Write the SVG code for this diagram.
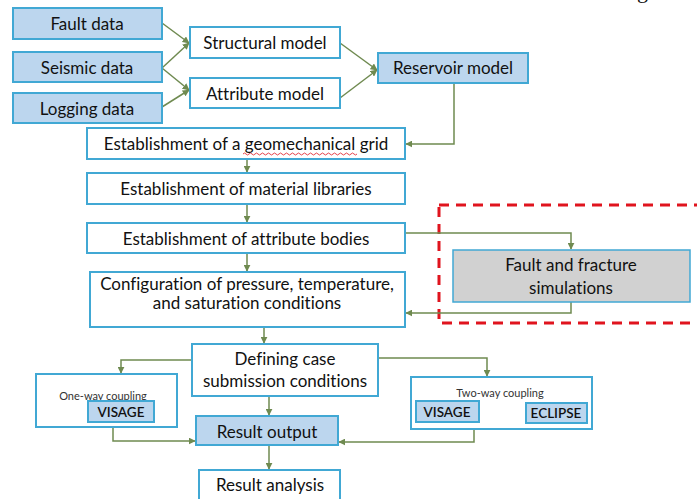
<svg xmlns="http://www.w3.org/2000/svg" width="697" height="499" viewBox="0 0 697 499">
<style>
.box{fill:#ffffff;stroke:#41a8d4;stroke-width:2}
.blue{fill:#bcd6ee;stroke:#41a8d4;stroke-width:2}
.gray{fill:#d1d1d1;stroke:#41a8d4;stroke-width:1.5}
text{font-variant-ligatures:none}
.t{font-family:Lato,"Liberation Sans",sans-serif;font-size:17px;fill:#111;text-anchor:middle;dominant-baseline:central}
.s{font-family:Lato,"Liberation Sans",sans-serif;font-size:11px;fill:#333;text-anchor:middle;dominant-baseline:central}
.v{font-family:Lato,"Liberation Sans",sans-serif;font-size:13.5px;font-weight:600;fill:#111;text-anchor:middle;dominant-baseline:central}
.c{fill:none;stroke:#6f8a50;stroke-width:1.5}
.cb{fill:none;stroke:#4a6fc0;stroke-width:1.3}
</style>
<defs>
<marker id="ah" viewBox="0 0 10 10" refX="9" refY="5" markerWidth="7" markerHeight="7" markerUnits="userSpaceOnUse" orient="auto">
<path d="M0,0 L10,5 L0,10 z" fill="#6f8a50"/>
</marker>
<marker id="ahb" viewBox="0 0 10 10" refX="9" refY="5" markerWidth="7" markerHeight="7" markerUnits="userSpaceOnUse" orient="auto">
<path d="M0,0 L10,5 L0,10 z" fill="#4a6fc0"/>
</marker>
</defs>
<rect width="697" height="499" fill="#ffffff"/>
<text x="637" y="-2" style="font-family:'Liberation Serif',serif;font-size:22px;fill:#111">g</text>

<rect x="439" y="205" width="262" height="118" fill="none" stroke="#e0141e" stroke-width="3" stroke-dasharray="10,7"/>

<g id="connectors">
<path class="c" d="M162,23 L189,43" marker-end="url(#ah)"/>
<path class="c" d="M162,68 L189,43" marker-end="url(#ah)"/>
<path class="c" d="M162,68 L189,90" marker-end="url(#ah)"/>
<path class="c" d="M162,107 L189,90" marker-end="url(#ah)"/>
<path class="c" d="M340,43 L377,70" marker-end="url(#ah)"/>
<path class="c" d="M340,98 L377,70" marker-end="url(#ah)"/>
<path class="c" d="M454,83 L454,144 L406,144" marker-end="url(#ah)"/>
<path class="c" d="M247,159 L247,172" marker-end="url(#ah)"/>
<path class="c" d="M247,204 L247,222" marker-end="url(#ah)"/>
<path class="c" d="M247,253 L247,271" marker-end="url(#ah)"/>
<path class="c" d="M405,233 L571,233 L571,249" marker-end="url(#ah)"/>
<path class="c" d="M571,302 L571,313 L406,313" marker-end="url(#ah)"/>
<path class="c" d="M264,327 L264,343" marker-end="url(#ah)"/>
<path class="c" d="M192,360 L121,360 L121,373" marker-end="url(#ah)"/>
<path class="c" d="M378,358 L487,358 L487,376" marker-end="url(#ah)"/>
<path class="c" d="M269,396 L269,415" marker-end="url(#ah)"/>
<path class="c" d="M113,422 L113,441 L195,441" marker-end="url(#ah)"/>
<path class="c" d="M474,429 L474,442 L339,442" marker-end="url(#ah)"/>
<path class="c" d="M269,445 L269,469" marker-end="url(#ah)"/>
<path class="cb" d="M479,409 L525,409" marker-end="url(#ahb)"/>
<path class="cb" d="M587,420 L537,420" marker-end="url(#ahb)"/>
</g>

<g id="fault-data"><rect class="blue" x="13" y="8" width="149" height="31"/><text class="t" x="87" y="23">Fault data</text></g>
<g id="seismic-data"><rect class="blue" x="13" y="52" width="149" height="30"/><text class="t" x="87" y="67">Seismic data</text></g>
<g id="logging-data"><rect class="blue" x="13" y="93" width="149" height="30"/><text class="t" x="87" y="108">Logging data</text></g>
<g id="structural-model"><rect class="box" x="190" y="27" width="150" height="31"/><text class="t" x="265" y="42">Structural model</text></g>
<g id="attribute-model"><rect class="box" x="190" y="78" width="150" height="30"/><text class="t" x="265" y="93">Attribute model</text></g>
<g id="reservoir-model"><rect class="blue" x="378" y="53" width="150" height="30"/><text class="t" x="453" y="67">Reservoir model</text></g>
<g id="geomechanical-grid"><rect class="box" x="87" y="128" width="318" height="31"/><text class="t" x="246" y="143">Establishment of a geomechanical grid</text>
<path d="M243,154 q1.5,-2 3,0 t3,0 t3,0 t3,0 t3,0 t3,0 t3,0 t3,0 t3,0 t3,0 t3,0 t3,0 t3,0 t3,0 t3,0 t3,0 t3,0 t3,0 t3,0 t3,0 t3,0 t3,0 t3,0 t3,0 t3,0 t3,0 t3,0 t3,0 t3,0 t3,0 t3,0 t3,0 t3,0 t3,0 t3,0 t3,0 t3,0 t3,0" fill="none" stroke="#e0141e" stroke-width="0.8"/></g>
<g id="material-libraries"><rect class="box" x="87" y="173" width="318" height="31"/><text class="t" x="246" y="188">Establishment of material libraries</text></g>
<g id="attribute-bodies"><rect class="box" x="87" y="223" width="318" height="30"/><text class="t" x="246" y="238">Establishment of attribute bodies</text></g>
<g id="conditions"><rect class="box" x="90" y="272" width="315" height="55"/><text class="t" x="247" y="283">Configuration of pressure, temperature,</text><text class="t" x="247" y="302">and saturation conditions</text></g>
<g id="fault-fracture"><rect class="gray" x="453" y="250" width="237" height="52"/><text class="t" x="571" y="264">Fault and fracture</text><text class="t" x="571" y="287">simulations</text></g>
<g id="defining-case"><rect class="box" x="192" y="344" width="186" height="52"/><text class="t" x="285" y="358">Defining case</text><text class="t" x="285" y="380">submission conditions</text></g>
<g id="one-way"><rect class="box" x="36" y="374" width="141" height="53"/><text class="s" x="103" y="395">One-way coupling</text></g>
<g id="visage-one"><rect class="blue" x="88" y="401" width="66" height="21"/><text class="v" x="121" y="412">VISAGE</text></g>
<g id="result-output"><rect class="blue" x="196" y="416" width="142" height="29"/><text class="t" x="267" y="431">Result output</text></g>
<g id="result-analysis"><rect class="box" x="199" y="470" width="141" height="32"/><text class="t" x="270" y="484">Result analysis</text></g>
<g id="two-way"><rect class="box" x="411" y="377" width="181" height="52"/><text class="s" x="500" y="392">Two-way coupling</text></g>
<g id="visage-two"><rect class="blue" x="416" y="401" width="63" height="21"/><text class="v" x="447" y="412">VISAGE</text></g>
<g id="eclipse"><rect class="blue" x="526" y="403" width="61" height="20"/><text class="v" x="556" y="413">ECLIPSE</text></g>
</svg>
